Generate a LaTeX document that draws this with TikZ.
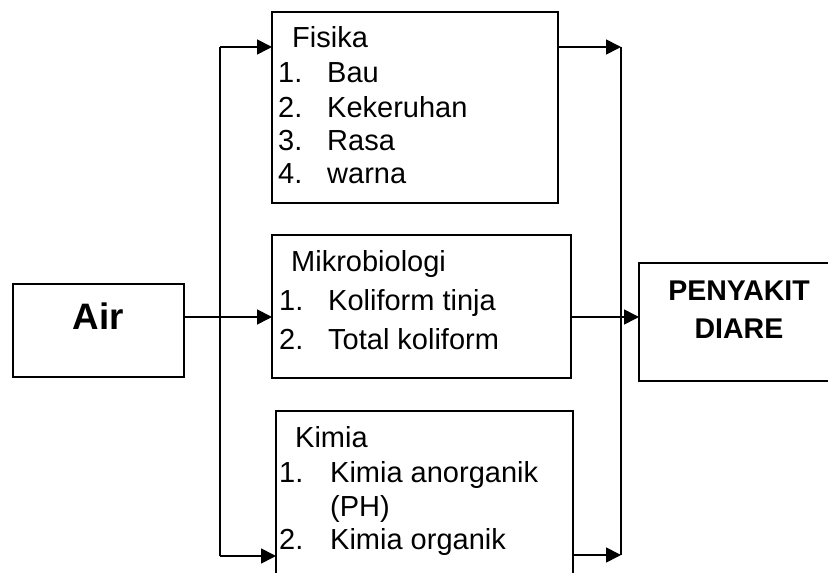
\documentclass[tikz,border=0pt]{standalone}
\usepackage{fontspec}
\setmainfont{Liberation Sans}
\usetikzlibrary{arrows.meta}
\tikzset{
  box/.style={draw, line width=1.7pt, inner sep=0pt, outer sep=0pt},
  conn/.style={line width=1.7pt},
  arr/.style={conn, -{Triangle[length=15pt,width=15pt]}},
  txt/.style={inner sep=0pt, anchor=base west, font=\fontsize{29}{35}\selectfont},
  bold/.style={inner sep=0pt, anchor=base, font=\bfseries\fontsize{28.5}{34}\selectfont}
}
\begin{document}
\begin{tikzpicture}[x=1pt,y=1pt]
\useasboundingbox (0,0) rectangle (828,573);
\clip (0,0) rectangle (828,573);
\fill[white] (0,0) rectangle (828,573);
% boxes
\node[box, minimum width=286pt, minimum height=191pt] (fis) at (415,465.5) {};
\node[box, minimum width=299pt, minimum height=143pt] (mik) at (421.5,266.5) {};
\node[box, minimum width=297pt, minimum height=189pt] (kim) at (424.5,67.5) {};
\node[box, minimum width=171pt, minimum height=93pt] (air) at (98.5,242.5) {};
\node[box, minimum width=201pt, minimum height=118pt] (pen) at (739.5,251) {};
% texts
\node[bold, font=\bfseries\fontsize{36.8}{40}\selectfont] (airt) at (98.5,243) {Air};
\node[bold] (pen1) at (739,272) {PENYAKIT};
\node[bold] (pen2) at (739,234) {DIARE};
\node[txt] (f0) at (292,525) {Fisika};
\node[txt] (f1n) at (278,490) {1.};
\node[txt] (f1) at (327,490) {Bau};
\node[txt] (f2n) at (278,455) {2.};
\node[txt] (f2) at (327,455) {Kekeruhan};
\node[txt] (f3n) at (278,422) {3.};
\node[txt] (f3) at (327,422) {Rasa};
\node[txt] (f4n) at (278,389) {4.};
\node[txt] (f4) at (327,389) {warna};
\node[txt] (m0) at (291,301) {Mikrobiologi};
\node[txt] (m1n) at (279,262) {1.};
\node[txt] (m1) at (328,262) {Koliform tinja};
\node[txt] (m2n) at (279,223) {2.};
\node[txt] (m2) at (328,223) {Total koliform};
\node[txt] (k0) at (295,125) {Kimia};
\node[txt] (k1n) at (279,90) {1.};
\node[txt] (k1) at (330,90) {Kimia anorganik};
\node[txt] (k1b) at (330,56) {(PH)};
\node[txt] (k2n) at (279,23) {2.};
\node[txt] (k2) at (330,23) {Kimia organik};
% connectors
\coordinate (lt) at (220,526);
\coordinate (lb) at (220,17);
\coordinate (rt) at (621,526);
\coordinate (rb) at (621,18);
\coordinate (ay) at (0,256);
\draw[conn] (lt) -- (lb);
\draw[conn] (rt) -- (rb);
\draw[arr] (lt) -- (fis.west |- lt);
\draw[arr] (lb) -- (kim.west |- lb);
\draw[arr] (air.east |- ay) -- (mik.west |- ay);
\draw[arr] (fis.east |- rt) -- (rt);
\draw[arr] (kim.east |- rb) -- (rb);
\draw[arr] (mik.east |- ay) -- (pen.west |- ay);
\end{tikzpicture}
\end{document}
